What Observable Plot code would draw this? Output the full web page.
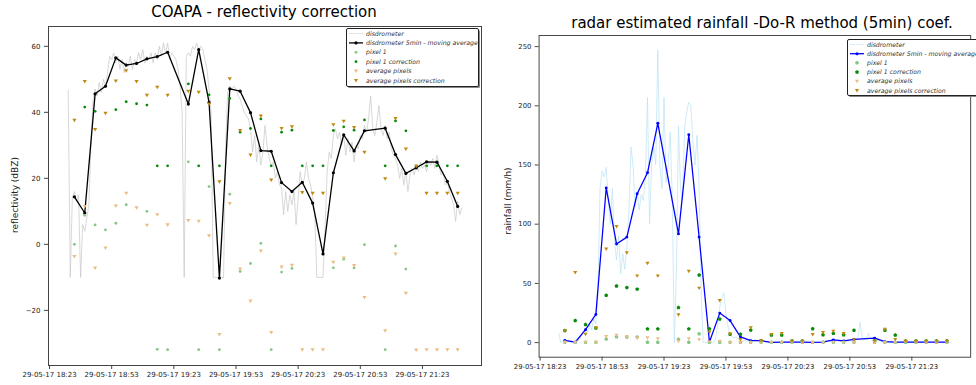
<!DOCTYPE html>
<html>
<head>
<meta charset="utf-8">
<script src="https://cdn.jsdelivr.net/npm/d3@7"></script>
<script src="https://cdn.jsdelivr.net/npm/@observablehq/plot@0.6"></script>
<style>
  html, body { margin: 0; padding: 0; background: #fff; }
  #wrap { position: relative; width: 976px; height: 385px; overflow: hidden; background: #fff; font-family: "DejaVu Sans", sans-serif; }
  .abs { position: absolute; }
  .title { font-size: 15px; color: #000; white-space: nowrap; transform: translateX(-50%); }
  .ylab { font-size: 9px; color: #222; white-space: nowrap; transform: translate(-50%, -50%) rotate(-90deg); }
</style>
</head>
<body>
<div id="wrap">
  <div id="left" class="abs" style="left:0;top:0"></div>
  <div id="right" class="abs" style="left:490px;top:0"></div>
  <div class="abs title" style="left:264px;top:3px">COAPA - reflectivity correction</div>
  <div class="abs title" style="left:762px;top:14px">radar estimated rainfall -Do-R method (5min) coef.</div>
  <div class="abs ylab" style="left:15px;top:195px">reflectivity (dBZ)</div>
  <div class="abs ylab" style="left:508px;top:201px">rainfall (mm/h)</div>
  <div id="legL" class="abs" style="left:346px;top:28px"></div>
  <div id="legR" class="abs" style="left:847px;top:39px"></div>
</div>
<script>
// ---------- data ----------
const tickTimes = ["18:23", "18:53", "19:23", "19:53", "20:23", "20:53", "21:23"];
const times5 = ["18:35","18:40","18:45","18:50","18:55","19:00","19:05","19:10","19:15","19:20",
  "19:30","19:35","19:40","19:45","19:50","19:55","20:00","20:05","20:10","20:15",
  "20:20","20:25","20:30","20:35","20:40","20:45","20:50","20:55","21:05","21:10",
  "21:15","21:20","21:25","21:30","21:35","21:40"];

// reflectivity (dBZ), 5-min moving average of the disdrometer
const zAvg = [14.4, 9.5, 45.6, 47.9, 56.5, 54.3, 54.8, 56.2, 56.9, 58.2,
  42.5, 59.0, 43.0, -10.2, 47.1, 46.4, 39.9, 28.4, 28.2, 18.7,
  16.0, 18.8, 12.5, -2.9, 21.7, 33.2, 28.3, 34.4, 35.2, 27.2,
  21.5, 23.2, 25.0, 24.9, 19.1, 11.5];
const zPix1 = [0.0, 8.8, 5.9, 4.4, 6.4, 12.0, null, 10.0, -31.8, -31.9,
  25.0, -31.9, 17.5, -31.9, 15.2, -8.2, -5.8, 0.3, -31.9, -8.4,
  -7.3, null, null, null, -7.1, -4.5, -7.1, -0.1, -31.9, -0.5,
  -7.5, null, null, null, null, null];
const zPix1Corr = [null, 41.6, 40.3, null, 40.8, 43.2, 42.6, 42.2, 23.8, 23.8,
  48.6, 23.8, 45.3, 23.8, 44.2, 34.0, 35.1, 38.0, 23.8, 34.0,
  34.6, 23.8, 23.8, 23.8, 34.5, 35.6, 34.6, 37.7, 23.8, 37.4,
  34.4, 23.7, 23.8, 23.8, 23.8, 23.8];
const zAvgPix = [-3.7, 11.5, -7.2, -1.1, 11.6, 15.5, 11.1, 5.8, 9.0, 5.9,
  7.2, 7.0, 2.6, -27.3, 12.4, -7.5, -17.2, -2.0, -26.7, -6.9,
  -6.3, -31.9, -31.9, -31.9, -5.4, -4.1, -6.4, -16.1, -26.2, -2.9,
  -14.8, -32.0, -31.9, -31.9, -31.9, -31.9];
const zAvgPixCorr = [37.6, 49.3, 34.8, 39.7, 49.5, 52.6, 49.3, 45.2, 47.6, 45.2,
  46.4, 46.1, 42.5, 19.0, 50.2, 34.5, 27.1, 38.9, 19.5, 35.1,
  35.6, 15.7, 15.5, 15.5, 36.2, 37.3, 35.4, 27.9, 19.9, 38.1,
  28.9, 23.7, 15.5, 15.5, 15.5, 15.5];

// rainfall (mm/h)
const rAvg = [1.9, 0.3, 10.9, 23.8, 130.6, 83.3, 89.1, 125.7, 143.4, 185.2,
  91.8, 175.5, 89.1, 0.5, 24.9, 18.6, 4.9, 1.6, 1.6, 0.2,
  0.3, 0.3, 0.3, 0.1, 0.3, 2.2, 1.4, 2.7, 3.8, 0.8,
  0.3, 0.3, 0.3, 0.3, 0.3, 0.3];
const rPix1 = [0.3, 0.3, 0.3, 0.3, 3.0, 4.9, 4.6, 4.6, 0.3, 0.3,
  2.7, 0.3, 7.4, 0.3, 0.3, 0.3, 0.3, 0.3, 0.3, 0.3,
  0.3, 0.3, 0.3, 0.3, 0.3, 0.3, 0.3, 0.3, 0.3, 0.3,
  0.3, 0.3, 0.3, 0.3, 0.3, 0.3];
const rPix1Corr = [10.1, 18.6, 15.2, 12.3, 39.9, 47.8, 46.4, 45.1, 11.5, 11.5,
  29.5, 11.5, 57.0, 11.6, 19.8, 7.0, 7.1, 10.5, 1.4, 6.3,
  6.3, 1.4, 1.4, 11.7, 6.5, 7.7, 6.5, 10.3, 1.4, 10.3,
  6.3, 1.4, 1.4, 1.4, 1.4, 1.4];
const rAvgPix = [0.3, 0.3, 0.3, 0.3, 5.2, 6.3, 5.2, 3.8, 4.1, 3.3,
  1.1, 3.3, 2.5, 0.5, 1.1, 0.2, 0.2, 0.2, 0.2, 0.2,
  0.2, 0.2, 0.2, 0.2, 0.2, 0.2, 0.2, 0.2, 0.2, 0.2,
  0.2, 0.2, 0.2, 0.2, 0.2, 0.2];
const rAvgPixCorr = [10.1, 59.2, 7.0, 12.5, 79.0, 98.1, 75.9, 56.3, 67.0, 56.3,
  23.5, 60.2, 46.0, 8.8, 35.5, 7.4, 2.6, 12.6, 1.5, 6.9,
  7.6, 1.2, 1.2, 6.8, 8.5, 9.7, 7.6, 2.4, 1.6, 11.2,
  2.7, 1.1, 1.1, 1.1, 1.1, 1.1];

// disdrometer, one value per minute from 18:32
const disStart = "18:32";
const disZ = [
  46.6, -10, 14, 16, 13, 15, -10, 6, 4, 8,
  12, 30, 44, 47, 45, 49, 46, 50, 48, 52,
  57, 56, 58, 55, 57, 53, 56, 52, 55, 54,
  57, 53, 56, 55, 58, 56, 59, 55, 57, 56,
  58, 55, 58, 56, 60, 57, 61, 58, 61, 56,
  58, 57, 56, 53, 48, 40, -10, 57, 58, 57,
  60, 59, 61, 59, 60, 59, 56, 53, 47, 40,
  -10, -10, -10, -10, -10, -10, 30, 46, 48, 47,
  48, 47, 45, 44, 42, 40, 39, 38, 35, 28,
  33, 25, 30, 24, 28, 36, 30, 26, 24, 25,
  20, 22, 18, 17, 9, 16, 10, 15, 12, 16,
  6, 14, 22, 18, 20, 25, 20, 18, 14, 10,
  -10, -10, -10, -10, 5, 22, 28, 26, 33, 35,
  32, 34, 30, 33, 27, 32, 28, 31, 25, 30,
  29, 33, 32, 36, 34, 38, 45, 35, 33, 37,
  42, 35, 33, 36, 32, 34, 29, 27, 26, 24,
  20, 23, 18, 22, 16, 21, 23, 21, 24, 22,
  25, 23, 24, 22, 25, 24, 26, 23, 27, 24,
  21, 22, 18, 19, 16, 14, 12, 7, 13, 9,
  11];
const disR = [
  8, 0, 2, 3, 1, 2, 0, 1, 0.5, 1,
  2, 6, 10, 12, 9, 15, 11, 20, 16, 40,
  130, 145, 140, 148, 120, 100, 130, 85, 70, 90,
  58, 75, 62, 80, 110, 165, 150, 115, 127, 112,
  125, 120, 140, 207, 100, 150, 165, 150, 247, 150,
  130, 207, 135, 150, 178, 120, 0, 60, 183, 130,
  120, 182, 195, 203, 200, 170, 150, 175, 130, 40,
  0, 0, 0, 0, 0, 0, 3, 15, 30, 38,
  42, 25, 14, 6, 5, 4, 5, 3, 2, 1,
  2, 1, 1.5, 1, 1, 3, 1.5, 1, 0.5, 1,
  0.5, 0.5, 0.3, 0.3, 0.2, 0.3, 0.2, 0.3, 0.2, 0.3,
  0.1, 0.2, 0.5, 0.3, 0.4, 0.6, 0.4, 0.3, 0.2, 0.1,
  0, 0, 0, 0, 0.1, 0.4, 0.8, 0.6, 1.5, 2,
  1.2, 1.8, 1, 1.6, 0.8, 1.4, 0.9, 1.2, 0.7, 1.1,
  1, 1.6, 1.4, 2.5, 2, 5, 17, 4, 2.5, 3.5,
  8, 3, 2, 3, 1.5, 2, 1, 0.8, 0.7, 0.5,
  0.3, 0.4, 0.2, 0.4, 0.2, 0.3, 0.4, 0.3, 0.5, 0.4,
  0.5, 0.4, 0.5, 0.4, 0.5, 0.4, 0.6, 0.4, 0.6, 0.5,
  0.3, 0.3, 0.2, 0.2, 0.1, 0.1, 0.1, 0, 0.1, 0,
  0];

const legendLabels = ["disdrometer", "disdrometer 5min - moving average", "pixel 1",
  "pixel 1 correction", "average pixels", "average pixels correction"];

// ---------- helpers ----------
const T = s => { const [h, m] = s.split(":").map(Number); return new Date(Date.UTC(2017, 4, 29, h, m)); };
const addMin = (d, k) => new Date(d.getTime() + k * 60000);
const start = T(disStart);
const five = times5.map((s, i) => ({
  t: T(s), zAvg: zAvg[i], zPix1: zPix1[i], zPix1Corr: zPix1Corr[i], zAvgPix: zAvgPix[i], zAvgPixCorr: zAvgPixCorr[i],
  rAvg: rAvg[i], rPix1: rPix1[i], rPix1Corr: rPix1Corr[i], rAvgPix: rAvgPix[i], rAvgPixCorr: rAvgPixCorr[i]
}));
const disL = disZ.map((v, i) => ({t: addMin(start, i), v}));
const disRr = disR.map((v, i) => ({t: addMin(start, i), v}));
const xDomain = [addMin(T("18:22"), 0.5), addMin(T("21:51"), 0.5)];
const xTicks = tickTimes.map(T);
const fmt = d3.utcFormat("%d-%m-%y %H:%M");

const triDown = { draw(ctx, size) { const r = Math.sqrt(size / Math.PI); ctx.moveTo(-r, -r * 0.72); ctx.lineTo(r, -r * 0.72); ctx.lineTo(0, r * 0.95); ctx.closePath(); } };
const pentagon = { draw(ctx, size) { const r = Math.sqrt(size / Math.PI) * 1.05; for (let k = 0; k < 5; k++) { const a = -Math.PI / 2 + k * 2 * Math.PI / 5; const x = r * Math.cos(a), y = r * Math.sin(a); if (k) ctx.lineTo(x, y); else ctx.moveTo(x, y); } ctx.closePath(); } };

const C = { pix1: "#85c585", pix1c: "#0a8a0a", avg: "#ecbd86", avgc: "#c08a12", gray: "#c6c6c6", blue: "#0000ff", lblue: "#b6e0f4" };
const commonStyle = { fontFamily: "DejaVu Sans, sans-serif", fontSize: "7px", color: "#222", background: "transparent" };

// ---------- left chart ----------
const left = Plot.plot({
  width: 490, height: 385,
  marginLeft: 48, marginRight: 9, marginTop: 26, marginBottom: 20,
  style: commonStyle,
  x: { type: "utc", domain: xDomain },
  y: { domain: [-36.7, 66] },
  marks: [
    Plot.axisX({ ticks: xTicks, tickFormat: fmt, tickSize: 4, tickPadding: 3, label: null, stroke: "#444" }),
    Plot.axisY({ ticks: [-20, 0, 20, 40, 60], tickSize: 4, tickPadding: 4, label: null, stroke: "#444" }),
    Plot.line(disL, { x: "t", y: "v", stroke: C.gray, strokeWidth: 0.75, strokeDasharray: "1,0.9" }),
    Plot.line(five, { x: "t", y: "zAvg", stroke: "#000", strokeWidth: 1.3 }),
    Plot.dot(five, { x: "t", y: "zAvg", r: 1.6, fill: "#000" }),
    Plot.dot(five, { x: "t", y: "zPix1", r: 1.4, fill: C.pix1 }),
    Plot.dot(five, { x: "t", y: "zPix1Corr", r: 1.4, fill: C.pix1c }),
    Plot.dot(five, { x: "t", y: "zAvgPix", r: 2.1, symbol: triDown, fill: C.avg }),
    Plot.dot(five, { x: "t", y: "zAvgPixCorr", r: 2.1, symbol: triDown, fill: C.avgc }),
    Plot.frame({ stroke: "#444", strokeWidth: 1 })
  ]
});
document.getElementById("left").appendChild(left);

// ---------- right chart ----------
const right = Plot.plot({
  width: 500, height: 385,
  marginLeft: 50, marginRight: 6, marginTop: 36, marginBottom: 18,
  style: commonStyle,
  x: { type: "utc", domain: xDomain },
  y: { domain: [-12.35, 259.4] },
  marks: [
    Plot.axisX({ ticks: xTicks, tickFormat: fmt, tickSize: 4, tickPadding: 3, label: null, stroke: "#444" }),
    Plot.axisY({ ticks: [0, 50, 100, 150, 200, 250], tickSize: 4, tickPadding: 4, label: null, stroke: "#444" }),
    Plot.line(disRr, { x: "t", y: "v", stroke: C.lblue, strokeWidth: 0.75, strokeDasharray: "1,0.9" }),
    Plot.line(five, { x: "t", y: "rAvg", stroke: C.blue, strokeWidth: 1.3 }),
    Plot.dot(five, { x: "t", y: "rAvg", r: 1.5, fill: C.blue }),
    Plot.dot(five, { x: "t", y: "rPix1", r: 2.0, symbol: pentagon, fill: C.pix1 }),
    Plot.dot(five, { x: "t", y: "rPix1Corr", r: 2.0, symbol: pentagon, fill: C.pix1c }),
    Plot.dot(five, { x: "t", y: "rAvgPix", r: 2.1, symbol: triDown, fill: C.avg }),
    Plot.dot(five, { x: "t", y: "rAvgPixCorr", r: 2.1, symbol: triDown, fill: C.avgc }),
    Plot.frame({ stroke: "#444", strokeWidth: 1 })
  ]
});
document.getElementById("right").appendChild(right);

// ---------- legends ----------
function legend(el, w, h, rowH, lineColor, dotR, ptSym, lineDash) {
  const svg = d3.create("svg").attr("width", w + 4).attr("height", h + 4)
    .style("font-family", "DejaVu Sans, sans-serif").style("overflow", "visible");
  svg.append("rect").attr("x", 2).attr("y", 2).attr("width", w).attr("height", h).attr("rx", 1.5).attr("fill", "#888");
  svg.append("rect").attr("x", 0.5).attr("y", 0.5).attr("width", w).attr("height", h).attr("rx", 1.5)
    .attr("fill", "#fff").attr("stroke", "#222").attr("stroke-width", 1);
  const sx0 = 3, sx1 = 17, tx = 20;
  legendLabels.forEach((lab, i) => {
    const y = 5.5 + rowH * i;
    const g = svg.append("g");
    const mid = (sx0 + sx1) / 2;
    if (i === 0) {
      g.append("line").attr("x1", sx0).attr("x2", sx1).attr("y1", y).attr("y2", y)
        .attr("stroke", lineDash).attr("stroke-width", 0.9).attr("stroke-dasharray", "1,0.9");
    } else if (i === 1) {
      g.append("line").attr("x1", sx0).attr("x2", sx1).attr("y1", y).attr("y2", y).attr("stroke", lineColor).attr("stroke-width", 1.3);
      g.append("circle").attr("cx", mid).attr("cy", y).attr("r", dotR).attr("fill", lineColor);
    } else if (i === 2 || i === 3) {
      const col = i === 2 ? C.pix1 : C.pix1c;
      if (ptSym === "pent") {
        g.append("path").attr("transform", `translate(${mid},${y})`).attr("d", d3.symbol(pentagon, 4 * Math.PI)()).attr("fill", col);
      } else {
        g.append("circle").attr("cx", mid).attr("cy", y).attr("r", 1.4).attr("fill", col);
      }
    } else {
      const col = i === 4 ? C.avg : C.avgc;
      g.append("path").attr("transform", `translate(${mid},${y})`).attr("d", d3.symbol(triDown, 2.1 * 2.1 * Math.PI)()).attr("fill", col);
    }
    g.append("text").attr("x", tx).attr("y", y).attr("dy", "0.35em").attr("font-size", 6.2).attr("font-style", "italic")
      .attr("fill", "#333").text(lab);
  });
  document.getElementById(el).appendChild(svg.node());
}
legend("legL", 132, 58, 9.4, "#000", 1.6, "dot", C.gray);
legend("legR", 140, 56, 9.2, C.blue, 1.5, "pent", C.lblue);
</script>
</body>
</html>
